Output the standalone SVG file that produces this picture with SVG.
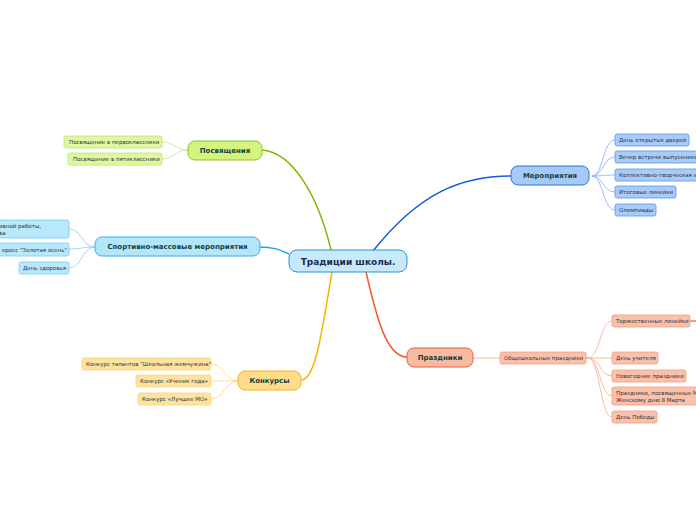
<svg xmlns="http://www.w3.org/2000/svg" width="696" height="520" viewBox="0 0 696 520">
<style>
text{font-family:"DejaVu Sans","Liberation Sans",sans-serif}
.c{font-size:5.5px;fill:#333}
.m{font-size:7px;font-weight:bold;fill:#12403a;text-anchor:middle}
.ct{font-size:9px;font-weight:bold;fill:#1b2a4a;text-anchor:middle}
.g1{fill:#d3f57e;stroke:#8cc22a;stroke-width:1}
.g2{fill:#def7a0;stroke:#bde46c;stroke-width:.8}
.b1{fill:#b3e6fb;stroke:#36aee8;stroke-width:1}
.b2{fill:#b8e8fb;stroke:#7ccbf0;stroke-width:.8}
.d1{fill:#a6c9f8;stroke:#2f72d8;stroke-width:1}
.d2{fill:#a9cbf9;stroke:#5b96f0;stroke-width:.8}
.r1{fill:#f9baa2;stroke:#e9603a;stroke-width:1}
.r2{fill:#f9c1ab;stroke:#f1a080;stroke-width:.8}
.y1{fill:#fddc8a;stroke:#f4b31d;stroke-width:1}
.y2{fill:#fde3a2;stroke:#fcd274;stroke-width:.8}
.l{fill:none}
</style>
<g id="connectors">
<path class="l" d="M331,250 C318,195 292,152 262,150" stroke="#7ab800" stroke-width="1.5"/>
<path class="l" d="M373,251 C420,192 462,176 511,176" stroke="#0b60d6" stroke-width="1.5"/>
<path class="l" d="M289,254 C278,249 272,247 260,247" stroke="#1fa3e6" stroke-width="1.5"/>
<path class="l" d="M366,272 C376,315 386,357 407,357" stroke="#f15a28" stroke-width="1.5"/>
<path class="l" d="M332,272 C322,330 316,380 301,380" stroke="#f7b500" stroke-width="1.5"/>
<g stroke="#c8e890" stroke-width=".9" fill="none">
<path d="M188,150 C175,150 175,142 162,142"/>
<path d="M188,150 C175,150 175,159 162,159"/>
</g>
<g stroke="#8fd6f4" stroke-width=".9" fill="none">
<path d="M95,247 C82,247 82,229 69,229"/>
<path d="M95,247 C82,247 82,249 69,249"/>
<path d="M95,247 C82,247 82,268 69,268"/>
</g>
<g stroke="#8db6f5" stroke-width=".9" fill="none">
<path d="M592,176 C603,176 603,140 615,140"/>
<path d="M592,176 C603,176 603,157 615,157"/>
<path d="M592,176 C603,176 603,175 615,175"/>
<path d="M592,176 C603,176 603,192 615,192"/>
<path d="M592,176 C603,176 603,210 615,210"/>
</g>
<path d="M473,358 L500,358" stroke="#f6b29a" stroke-width=".9" fill="none"/>
<g stroke="#f6b29a" stroke-width=".9" fill="none">
<path d="M588,358 C600,358 600,321 612,321"/>
<path d="M588,358 C600,358 600,358 612,358"/>
<path d="M588,358 C600,358 600,376 612,376"/>
<path d="M588,358 C600,358 600,396 612,396"/>
<path d="M588,358 C600,358 600,417 612,417"/>
</g>
<path d="M588,358 L586,358" stroke="#f05a28" stroke-width="1.2"/>
<path d="M690,321 L696,321" stroke="#f05a28" stroke-width="1.2" fill="none"/>
<g stroke="#fdd98a" stroke-width=".9" fill="none">
<path d="M238,381 C225,381 224,364 211,364"/>
<path d="M238,381 C225,381 224,381 211,381"/>
<path d="M238,381 C225,381 224,399 211,399"/>
</g>
</g>
<g id="root">
<rect x="289" y="250" width="118" height="22" rx="8" fill="#c6e9fb" stroke="#3091d2" stroke-width="1"/>
<text class="ct" x="348" y="264.5">Традиции школы.</text>
</g>
<g id="posv">
<rect class="g1" x="188" y="141" width="74" height="19" rx="7"/>
<text class="m" x="225" y="153">Посвящения</text>
</g>
<g id="posv1"><rect class="g2" x="64" y="136" width="98" height="12" rx="2"/><text class="c" x="69" y="144">Посвящение в первоклассники</text></g>
<g id="posv2"><rect class="g2" x="68" y="153" width="94" height="12" rx="2"/><text class="c" x="73" y="161">Посвящение в пятиклассники</text></g>
<g id="sport">
<rect class="b1" x="95" y="237" width="165" height="19" rx="7"/>
<text class="m" x="177.5" y="249">Спортивно-массовые мероприятия</text>
</g>
<g id="sport1"><rect class="b2" x="-10" y="220" width="79" height="18" rx="2"/><text class="c" x="-1" y="228">ивной работы,</text><text class="c" x="-1" y="235">ва</text></g>
<g id="sport2"><rect class="b2" x="-10" y="243" width="79" height="13" rx="2"/><text class="c" x="2" y="251.5">кросс "Золотая осень"</text></g>
<g id="sport3"><rect class="b2" x="19" y="262" width="50" height="12" rx="2"/><text class="c" x="23" y="270">День здоровья</text></g>
<g id="mer">
<rect class="d1" x="511" y="166" width="78" height="19" rx="7"/>
<text class="m" x="550" y="178">Мероприятия</text>
</g>
<g id="mer1"><rect class="d2" x="615" y="134" width="74" height="12" rx="2"/><text class="c" x="619" y="142">День открытых дверей</text></g>
<g id="mer2"><rect class="d2" x="615" y="151" width="90" height="12" rx="2"/><text class="c" x="619" y="159">Вечер встречи выпускников</text></g>
<g id="mer3"><rect class="d2" x="615" y="169" width="90" height="12" rx="2"/><text class="c" x="619" y="177">Коллективно-творческая и</text></g>
<g id="mer4"><rect class="d2" x="615" y="186" width="61" height="12" rx="2"/><text class="c" x="619" y="194">Итоговые линейки</text></g>
<g id="mer5"><rect class="d2" x="615" y="204" width="41" height="12" rx="2"/><text class="c" x="619" y="212">Олимпиады</text></g>
<g id="pr">
<rect class="r1" x="407" y="348" width="66" height="19" rx="7"/>
<text class="m" x="440" y="360">Праздники</text>
</g>
<g id="pr0"><rect class="r2" x="500" y="352" width="86" height="12" rx="2"/><text class="c" x="504" y="360">Общешкольные праздники</text></g>
<g id="pr1"><rect class="r2" x="612" y="315" width="78" height="12" rx="2"/><text class="c" x="616" y="323">Торжественные линейки</text></g>
<g id="pr2"><rect class="r2" x="612" y="352" width="46" height="12" rx="2"/><text class="c" x="616" y="360">День учителя</text></g>
<g id="pr3"><rect class="r2" x="612" y="370" width="74" height="12" rx="2"/><text class="c" x="616" y="378">Новогодние праздники</text></g>
<g id="pr4"><rect class="r2" x="612" y="387" width="90" height="18" rx="2"/><text class="c" x="616" y="395">Праздники, посвященные М</text><text class="c" x="616" y="402">Женскому дню 8 Марта</text></g>
<g id="pr5"><rect class="r2" x="612" y="411" width="45" height="12" rx="2"/><text class="c" x="616" y="419">День Победы</text></g>
<g id="kon">
<rect class="y1" x="238" y="371" width="63" height="19" rx="7"/>
<text class="m" x="269.5" y="383">Конкурсы</text>
</g>
<g id="kon1"><rect class="y2" x="82" y="358" width="129" height="12" rx="2"/><text class="c" x="86" y="366">Конкурс талантов "Школьная жемчужина"</text></g>
<g id="kon2"><rect class="y2" x="136" y="375" width="75" height="12" rx="2"/><text class="c" x="140" y="383">Конкурс «Ученик года»</text></g>
<g id="kon3"><rect class="y2" x="138" y="393" width="73" height="12" rx="2"/><text class="c" x="142" y="401">Конкурс «Лучшее МО»</text></g>
</svg>
